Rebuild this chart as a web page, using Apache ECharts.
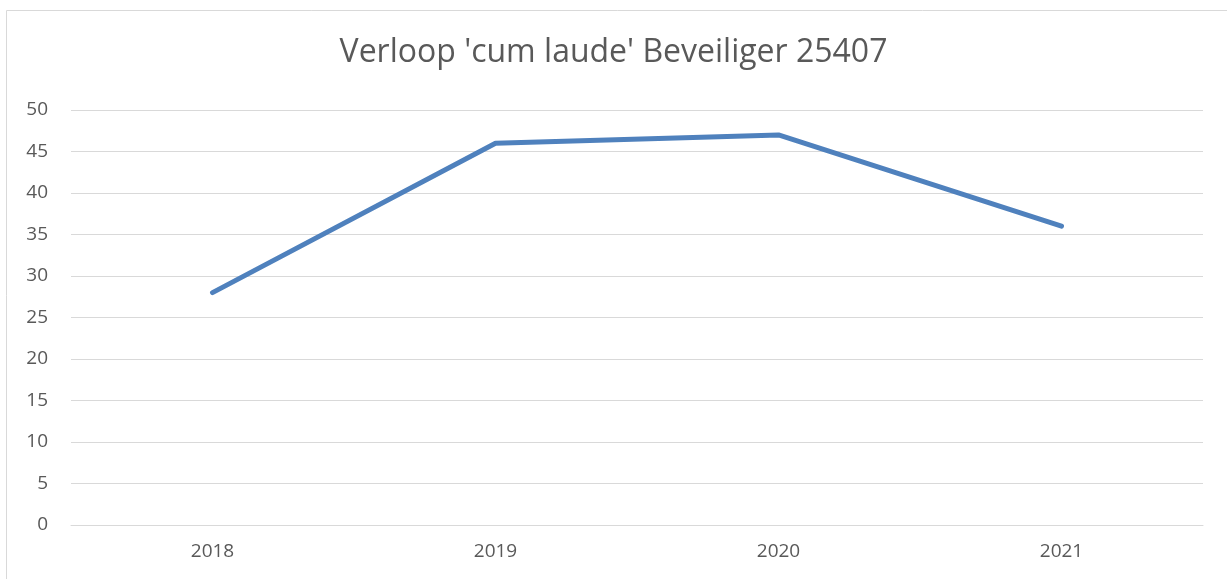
<!DOCTYPE html>
<html><head><meta charset="utf-8">
<script src="https://cdn.jsdelivr.net/npm/echarts@6/dist/echarts.min.js"></script>
<style>html,body{margin:0;padding:0;background:#fff}#c{width:1227px;height:579px}</style>
</head><body><div id="c"></div>
<script>
const title = "Verloop 'cum laude' Beveiliger 25407";
const categories = ['2018', '2019', '2020', '2021'];
const values = [28, 46, 47, 36];
const yTicks = {min: 0, max: 50, interval: 5};

const chart = echarts.init(document.getElementById('c'), null, {renderer: 'canvas'});
const font = '"Open Sans", "Noto Sans", sans-serif';
chart.setOption({
  animation: false,
  graphic: [{type: 'rect', shape: {x: 6.5, y: 10.5, width: 1300, height: 700}, style: {fill: 'none', stroke: '#d9d9d9', lineWidth: 1}, silent: true}],
  title: {text: title, left: 'center', top: 32, textStyle: {fontFamily: font, fontSize: 32, fontWeight: 'normal', color: '#595959'}},
  grid: {left: 71, right: 24, top: 110, bottom: 54, containLabel: false},
  xAxis: {type: 'category', data: categories, boundaryGap: true,
    axisLine: {show: true, lineStyle: {color: '#d9d9d9', width: 1}},
    axisTick: {show: false},
    axisLabel: {fontFamily: font, fontSize: 19, color: '#595959', margin: 17}},
  yAxis: {type: 'value', min: yTicks.min, max: yTicks.max, interval: yTicks.interval,
    axisLine: {show: false}, axisTick: {show: false},
    splitLine: {lineStyle: {color: '#d9d9d9', width: 1}},
    axisLabel: {fontFamily: font, fontSize: 19, color: '#595959', margin: 23}},
  series: [{type: 'line', data: values, symbol: 'none',
    lineStyle: {color: '#4f81bd', width: 5, cap: 'round', join: 'round'}}]
});
</script></body></html>
